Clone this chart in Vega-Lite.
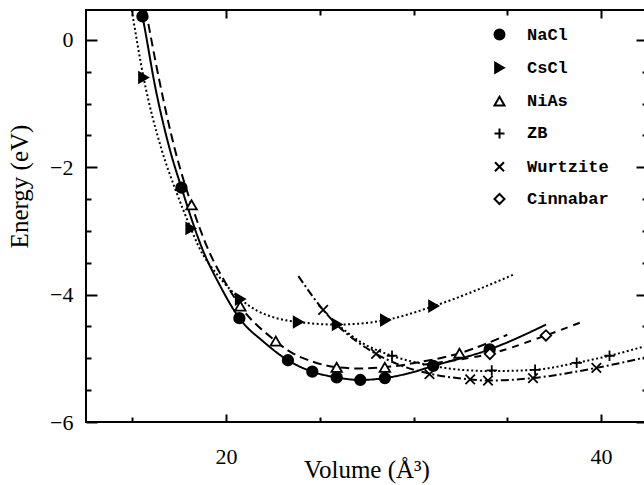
{
  "$schema": "https://vega.github.io/schema/vega-lite/v6.json",
  "width": 561,
  "height": 412,
  "autosize": {"type": "none"},
  "padding": {"left": 86, "top": 10, "right": 0, "bottom": 63},
  "config": {
    "view": {"stroke": "black", "strokeWidth": 2},
    "font": "Liberation Serif",
    "axis": {
      "domain": false, "grid": false, "tickColor": "black", "tickWidth": 2,
      "labelFont": "Liberation Serif", "labelFontSize": 22, "labelColor": "black",
      "titleFont": "Liberation Serif", "titleFontSize": 25, "titleFontWeight": "normal", "titleColor": "black"
    }
  },
  "datasets": {
    "curves": [
      {"c": "NaCl", "V": 15.47, "E": 0.47}, {"c": "NaCl", "V": 15.54, "E": 0.37}, {"c": "NaCl", "V": 16.25, "E": -0.78},
      {"c": "NaCl", "V": 17.01, "E": -1.73}, {"c": "NaCl", "V": 17.62, "E": -2.32}, {"c": "NaCl", "V": 18.76, "E": -3.3},
      {"c": "NaCl", "V": 19.68, "E": -3.86}, {"c": "NaCl", "V": 20.71, "E": -4.37}, {"c": "NaCl", "V": 22.0, "E": -4.74},
      {"c": "NaCl", "V": 23.3, "E": -5.03}, {"c": "NaCl", "V": 24.6, "E": -5.21}, {"c": "NaCl", "V": 25.9, "E": -5.3},
      {"c": "NaCl", "V": 27.16, "E": -5.34}, {"c": "NaCl", "V": 28.47, "E": -5.31}, {"c": "NaCl", "V": 29.8, "E": -5.23},
      {"c": "NaCl", "V": 31.05, "E": -5.12}, {"c": "NaCl", "V": 34.06, "E": -4.86}, {"c": "NaCl", "V": 37.07, "E": -4.47},

      {"c": "CsCl", "V": 14.97, "E": 0.47}, {"c": "CsCl", "V": 15.6, "E": -0.59}, {"c": "CsCl", "V": 16.57, "E": -1.73},
      {"c": "CsCl", "V": 17.3, "E": -2.35}, {"c": "CsCl", "V": 18.12, "E": -2.96}, {"c": "CsCl", "V": 18.5, "E": -3.22},
      {"c": "CsCl", "V": 19.77, "E": -3.77}, {"c": "CsCl", "V": 20.76, "E": -4.07}, {"c": "CsCl", "V": 21.64, "E": -4.25},
      {"c": "CsCl", "V": 22.7, "E": -4.37}, {"c": "CsCl", "V": 23.85, "E": -4.43}, {"c": "CsCl", "V": 25.93, "E": -4.47},
      {"c": "CsCl", "V": 28.5, "E": -4.4}, {"c": "CsCl", "V": 31.07, "E": -4.18}, {"c": "CsCl", "V": 35.3, "E": -3.69},

      {"c": "NiAs", "V": 15.72, "E": 0.47}, {"c": "NiAs", "V": 16.45, "E": -0.65}, {"c": "NiAs", "V": 17.28, "E": -1.73},
      {"c": "NiAs", "V": 18.16, "E": -2.59}, {"c": "NiAs", "V": 19.06, "E": -3.3}, {"c": "NiAs", "V": 20.0, "E": -3.83},
      {"c": "NiAs", "V": 20.76, "E": -4.18}, {"c": "NiAs", "V": 22.65, "E": -4.73}, {"c": "NiAs", "V": 23.32, "E": -4.88},
      {"c": "NiAs", "V": 24.6, "E": -5.05}, {"c": "NiAs", "V": 25.9, "E": -5.14}, {"c": "NiAs", "V": 27.2, "E": -5.16},
      {"c": "NiAs", "V": 28.47, "E": -5.14}, {"c": "NiAs", "V": 30.5, "E": -5.05}, {"c": "NiAs", "V": 32.45, "E": -4.92},
      {"c": "NiAs", "V": 35.0, "E": -4.63},

      {"c": "ZB", "V": 25.95, "E": -4.47}, {"c": "ZB", "V": 27.1, "E": -4.73}, {"c": "ZB", "V": 28.85, "E": -4.96},
      {"c": "ZB", "V": 30.88, "E": -5.11}, {"c": "ZB", "V": 32.5, "E": -5.18}, {"c": "ZB", "V": 34.17, "E": -5.2},
      {"c": "ZB", "V": 36.48, "E": -5.18}, {"c": "ZB", "V": 38.7, "E": -5.07}, {"c": "ZB", "V": 40.45, "E": -4.96},
      {"c": "ZB", "V": 42.45, "E": -4.8},

      {"c": "Wurtzite", "V": 23.86, "E": -3.71}, {"c": "Wurtzite", "V": 25.18, "E": -4.24}, {"c": "Wurtzite", "V": 26.0, "E": -4.5},
      {"c": "Wurtzite", "V": 27.0, "E": -4.74}, {"c": "Wurtzite", "V": 28.0, "E": -4.93}, {"c": "Wurtzite", "V": 29.4, "E": -5.12},
      {"c": "Wurtzite", "V": 30.85, "E": -5.24}, {"c": "Wurtzite", "V": 33.02, "E": -5.33}, {"c": "Wurtzite", "V": 33.97, "E": -5.35},
      {"c": "Wurtzite", "V": 36.37, "E": -5.31}, {"c": "Wurtzite", "V": 39.75, "E": -5.15}, {"c": "Wurtzite", "V": 42.45, "E": -4.98},

      {"c": "Cinnabar", "V": 30.5, "E": -5.1}, {"c": "Cinnabar", "V": 32.0, "E": -5.04}, {"c": "Cinnabar", "V": 34.07, "E": -4.93},
      {"c": "Cinnabar", "V": 37.06, "E": -4.64}, {"c": "Cinnabar", "V": 38.88, "E": -4.44}
    ],
    "points": [
      {"s": "NaCl", "V": 15.54, "E": 0.37}, {"s": "NaCl", "V": 17.62, "E": -2.32}, {"s": "NaCl", "V": 20.71, "E": -4.37},
      {"s": "NaCl", "V": 23.3, "E": -5.03}, {"s": "NaCl", "V": 24.6, "E": -5.21}, {"s": "NaCl", "V": 25.9, "E": -5.3},
      {"s": "NaCl", "V": 27.16, "E": -5.34}, {"s": "NaCl", "V": 28.47, "E": -5.31}, {"s": "NaCl", "V": 31.05, "E": -5.12},
      {"s": "NaCl", "V": 34.06, "E": -4.86},
      {"s": "CsCl", "V": 15.6, "E": -0.59}, {"s": "CsCl", "V": 18.12, "E": -2.96}, {"s": "CsCl", "V": 20.76, "E": -4.07},
      {"s": "CsCl", "V": 23.85, "E": -4.43}, {"s": "CsCl", "V": 25.93, "E": -4.47}, {"s": "CsCl", "V": 28.5, "E": -4.4},
      {"s": "CsCl", "V": 31.07, "E": -4.18},
      {"s": "NiAs", "V": 18.16, "E": -2.59}, {"s": "NiAs", "V": 20.76, "E": -4.18}, {"s": "NiAs", "V": 22.65, "E": -4.73},
      {"s": "NiAs", "V": 25.9, "E": -5.14}, {"s": "NiAs", "V": 28.47, "E": -5.14}, {"s": "NiAs", "V": 32.45, "E": -4.92},
      {"s": "ZB", "V": 28.85, "E": -4.96}, {"s": "ZB", "V": 34.17, "E": -5.19}, {"s": "ZB", "V": 36.48, "E": -5.18},
      {"s": "ZB", "V": 38.7, "E": -5.07}, {"s": "ZB", "V": 40.45, "E": -4.96},
      {"s": "Wurtzite", "V": 25.18, "E": -4.24}, {"s": "Wurtzite", "V": 28.0, "E": -4.93}, {"s": "Wurtzite", "V": 30.85, "E": -5.25},
      {"s": "Wurtzite", "V": 33.02, "E": -5.33}, {"s": "Wurtzite", "V": 33.97, "E": -5.35}, {"s": "Wurtzite", "V": 36.37, "E": -5.31},
      {"s": "Wurtzite", "V": 39.75, "E": -5.15},
      {"s": "Cinnabar", "V": 34.07, "E": -4.93}, {"s": "Cinnabar", "V": 37.06, "E": -4.64}
    ]
  },
  "layer": [
    {
      "data": {"name": "curves"},
      "mark": {"type": "line", "interpolate": "monotone", "strokeWidth": 2, "color": "black", "clip": true},
      "encoding": {
        "x": {"field": "V", "type": "quantitative", "scale": {"domain": [12.53, 42.45], "nice": false, "zero": false},
              "axis": {"orient": "bottom", "values": [20, 40], "tickSize": -8, "labelPadding": 32, "format": "d", "title": "Volume (Å³)", "titlePadding": -10}},
        "y": {"field": "E", "type": "quantitative", "scale": {"domain": [-6, 0.47], "nice": false, "zero": false},
              "axis": {"orient": "left", "values": [-6, -4, -2, 0], "tickSize": -11, "labelPadding": 24, "format": "d", "title": "Energy (eV)", "titleX": -67, "titleY": 176, "titleBaseline": "middle", "titleAngle": -90}},
        "strokeDash": {"field": "c", "type": "nominal",
          "scale": {"domain": ["Cinnabar", "Wurtzite", "ZB", "NiAs", "CsCl", "NaCl"],
                    "range": [[7, 6], [8, 3, 2, 3], [2, 2.5], [9, 5], [2, 2.5], [1, 0]]},
          "legend": null}
      }
    },
    {
      "data": {"name": "points"},
      "mark": {"type": "point", "stroke": "black", "strokeWidth": 1.8, "size": 110, "opacity": 1, "clip": true},
      "encoding": {
        "x": {"field": "V", "type": "quantitative", "axis": {"orient": "bottom", "values": [15, 25, 30, 35], "tickSize": -5, "labels": false, "title": null}},
        "y": {"field": "E", "type": "quantitative", "axis": {"orient": "left", "values": [-5.5, -5, -4.5, -3.5, -3, -2.5, -1.5, -1, -0.5], "tickSize": -5, "labels": false, "title": null}},
        "shape": {"field": "s", "type": "nominal",
          "scale": {"domain": ["NaCl", "CsCl", "NiAs", "ZB", "Wurtzite", "Cinnabar"],
                    "range": ["circle", "triangle-right", "triangle-up", "M-1,0L1,0M0,-1L0,1", "M-0.9,-0.9L0.9,0.9M-0.9,0.9L0.9,-0.9", "diamond"]},
          "legend": {"orient": "none", "legendX": 405, "legendY": 16, "title": null, "padding": 0,
                     "labelFont": "Liberation Mono", "labelFontSize": 17, "labelFontWeight": "bold", "labelColor": "black",
                     "symbolStrokeColor": "black", "symbolStrokeWidth": 2, "symbolSize": 100, "symbolOpacity": 1,
                     "rowPadding": 14.3, "labelOffset": 19,
                     "encode": {"symbols": {"update": {"stroke": {"value": "black"}, "strokeWidth": {"value": 2}}}}}},
        "fill": {"field": "s", "type": "nominal",
          "scale": {"domain": ["NaCl", "CsCl", "NiAs", "ZB", "Wurtzite", "Cinnabar"],
                    "range": ["black", "black", "white", "white", "white", "white"]},
          "legend": {"orient": "none", "legendX": 405, "legendY": 16, "title": null, "padding": 0,
                     "labelFont": "Liberation Mono", "labelFontSize": 17, "labelFontWeight": "bold", "labelColor": "black",
                     "symbolStrokeColor": "black", "symbolStrokeWidth": 2, "symbolSize": 100, "symbolOpacity": 1,
                     "rowPadding": 14.3, "labelOffset": 19,
                     "encode": {"symbols": {"update": {"stroke": {"value": "black"}, "strokeWidth": {"value": 2}}}}}}
      }
    },
    {
      "data": {"name": "points"},
      "mark": {"type": "point", "opacity": 0},
      "encoding": {
        "x": {"field": "V", "type": "quantitative", "axis": {"orient": "top", "values": [20, 40], "tickSize": -8, "labels": false, "title": null}},
        "y": {"field": "E", "type": "quantitative", "axis": {"orient": "right", "values": [-6, -4, -2, 0], "tickSize": -11, "labels": false, "title": null}}
      }
    },
    {
      "data": {"name": "points"},
      "mark": {"type": "point", "opacity": 0},
      "encoding": {
        "x": {"field": "V", "type": "quantitative", "axis": {"orient": "top", "values": [15, 25, 30, 35], "tickSize": -5, "labels": false, "title": null}},
        "y": {"field": "E", "type": "quantitative", "axis": {"orient": "right", "values": [-5.5, -5, -4.5, -3.5, -3, -2.5, -1.5, -1, -0.5], "tickSize": -5, "labels": false, "title": null}}
      }
    }
  ],
  "resolve": {"axis": {"x": "independent", "y": "independent"}}
}
